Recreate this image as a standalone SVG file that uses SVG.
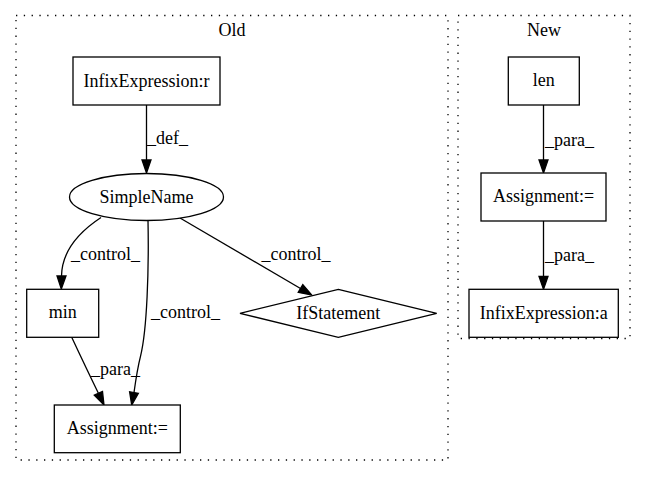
<svg xmlns="http://www.w3.org/2000/svg" width="645" height="480" viewBox="0 0 645 480">
<style>
text{font-family:"Liberation Serif","Times New Roman",serif;font-size:18px;fill:#000}
.c{text-anchor:middle}
.n{fill:#fff;stroke:#000;stroke-width:1.3}
.cl{fill:none;stroke:#000;stroke-width:1.3;stroke-dasharray:1.3,6.5}
.e{fill:none;stroke:#000;stroke-width:1.3}
.h{fill:#000;stroke:#000;stroke-width:1.3}
</style>
<rect width="645" height="480" fill="#fff"/>
<g id="cluster_old">
<rect class="cl" x="16" y="15.5" width="432" height="444.5"/>
<text class="c" x="232" y="35.5">Old</text>
</g>
<g id="cluster_new">
<rect class="cl" x="458" y="15.5" width="172" height="323"/>
<text class="c" x="544" y="35.5">New</text>
</g>
<g id="edges">
<path class="e" d="M146.5,105 L146.5,160"/>
<polygon class="h" points="151,160 142,160 146.5,173"/>
<text x="147" y="144">_def_</text>
<path class="e" d="M101,217.5 C82,230 62,248 61.5,276"/>
<polygon class="h" points="66,276 57,276 61.3,289"/>
<text x="71" y="259.5">_control_</text>
<path class="e" d="M148,220.5 C149,270 147,330 140.6,355.8 C138,366 136,378 134,392.5"/>
<polygon class="h" points="138.4,393.3 129.6,391.7 131.7,405"/>
<text x="151" y="317.5">_control_</text>
<path class="e" d="M180,218 L300.5,288.5"/>
<polygon class="h" points="298.2,292.4 302.8,284.6 311.7,295"/>
<text x="261.5" y="259.5">_control_</text>
<path class="e" d="M71.7,337.3 C80,355 89,374 98.4,393.3"/>
<polygon class="h" points="94.3,395.2 102.5,391.4 104,405"/>
<text x="91" y="375">_para_</text>
<path class="e" d="M543.5,105 L543.5,160"/>
<polygon class="h" points="548,160 539,160 543.5,173"/>
<text x="545" y="146">_para_</text>
<path class="e" d="M543.5,221 L543.5,276.3"/>
<polygon class="h" points="548,276.3 539,276.3 543.5,289.3"/>
<text x="545" y="260.5">_para_</text>
</g>
<g id="node_infix_r">
<rect class="n" x="73" y="57" width="147" height="48"/>
<text class="c" x="146.5" y="86.5">InfixExpression:r</text>
</g>
<g id="node_simplename">
<ellipse class="n" cx="146.5" cy="197" rx="77" ry="23.5"/>
<text class="c" x="146.5" y="202.5">SimpleName</text>
</g>
<g id="node_min">
<rect class="n" x="26.7" y="289.3" width="72" height="48"/>
<text class="c" x="62.7" y="317.5">min</text>
</g>
<g id="node_ifstatement">
<polygon class="n" points="338.3,289.3 436.7,313.3 338.3,337.3 240,313.3"/>
<text class="c" x="338.3" y="318.5">IfStatement</text>
</g>
<g id="node_assign_old">
<rect class="n" x="54.3" y="405" width="126" height="47.7"/>
<text class="c" x="117.3" y="434">Assignment:=</text>
</g>
<g id="node_len">
<rect class="n" x="508.3" y="57" width="71" height="48"/>
<text class="c" x="543.8" y="85.7">len</text>
</g>
<g id="node_assign_new">
<rect class="n" x="481" y="173" width="125" height="48"/>
<text class="c" x="543.5" y="201.7">Assignment:=</text>
</g>
<g id="node_infix_a">
<rect class="n" x="469" y="289.3" width="149.3" height="48"/>
<text class="c" x="543.7" y="318.5">InfixExpression:a</text>
</g>
</svg>
